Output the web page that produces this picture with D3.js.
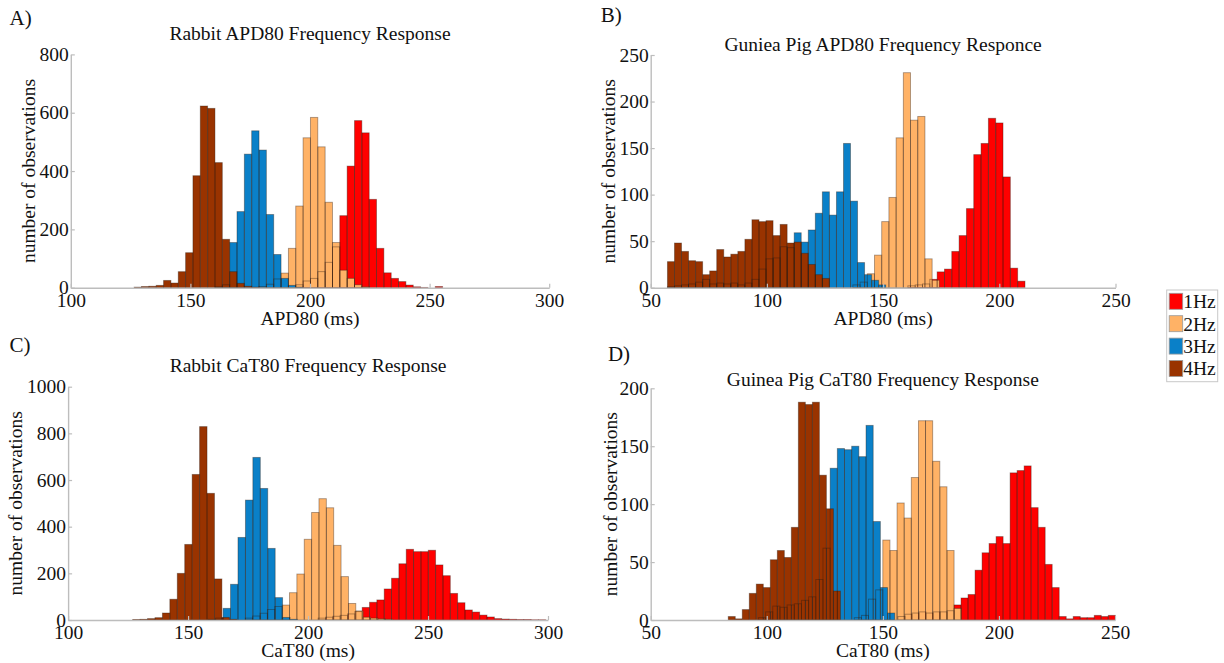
<!DOCTYPE html>
<html>
<head>
<meta charset="utf-8">
<script src="https://cdnjs.cloudflare.com/ajax/libs/d3/7.8.5/d3.min.js"></script>
<style>
  body { margin: 0; background: #fff; }
  svg { display: block; font-family: 'Liberation Serif', 'Times New Roman', serif; }
</style>
</head>
<body>
<div id="chart"></div>
<script>
const freqs = ['1Hz', '2Hz', '3Hz', '4Hz'];
const freqColors = ['#ff0000', '#ffb266', '#0a80c8', '#993300'];

// first bin edge (ms) and bin width per frequency, then the counts per bin
const rabbitApdStart = [194.04, 178.69, 160.27, 126.5];
const rabbitApdWidth = [3.07, 3.07, 3.07, 3.07];
const rabbitApd1Hz = [10, 23, 32, 55, 87, 140, 247, 417, 573, 531, 303, 135, 51, 32, 21, 9, 3, 1, 0, 4];
const rabbitApd2Hz = [4, 12, 30, 50, 135, 280, 514, 584, 483, 293, 155, 60, 32, 10, 3];
const rabbitApd3Hz = [3, 10, 155, 261, 458, 538, 472, 251, 114, 32, 8, 2];
const rabbitApd4Hz = [2, 4, 5, 8, 25, 16, 55, 120, 384, 623, 615, 429, 166, 55, 15, 5, 2];

const pigApdStart = [160.65, 137.0, 57.2, 57.2];
const pigApdWidth = [3.15, 3.1, 3.03, 3.03];
const pigApd1Hz = [2, 3, 4, 9, 17, 20, 39, 56, 85, 143, 155, 182, 177, 119, 21, 7];
const pigApd2Hz = [3, 6, 15, 35, 71, 97, 161, 231, 180, 184, 31, 8];
const pigApd3Hz = [1, 2, 3, 4, 6, 9, 4, 5, 4, 5, 3, 5, 9, 20, 31, 32, 44, 43, 59, 49, 62, 80, 103, 78, 103, 155, 93, 27, 14, 8, 3];
const pigApd4Hz = [28, 48, 39, 29, 28, 14, 18, 41, 33, 36, 39, 52, 73, 71, 72, 56, 68, 48, 49, 37, 25, 14, 10];

const rabbitCatStart = [204.2, 173.85, 158.4, 126.9];
const rabbitCatWidth = [3.06, 3.07, 3.1, 3.1];
const rabbitCat1Hz = [8, 12, 16, 20, 26, 36, 54, 76, 86, 133, 179, 241, 303, 293, 293, 299, 236, 190, 114, 74, 43, 34, 21, 13, 6, 4, 3, 2, 2, 1, 1];
const rabbitCat2Hz = [8, 17, 29, 45, 58, 64, 117, 197, 346, 461, 520, 481, 320, 186, 71, 39, 12, 8, 5, 3];
const rabbitCat3Hz = [3, 8, 50, 153, 354, 514, 697, 564, 307, 96, 11, 3];
const rabbitCat4Hz = [2, 3, 6, 10, 30, 89, 200, 324, 624, 829, 543, 176, 11, 3];

const pigCatStart = [156.5, 137.7, 96.4, 83.4];
const pigCatWidth = [3.02, 3.07, 3.09, 3.02];
const pigCat1Hz = [3, 5, 6, 7, 6, 7, 7, 8, 13, 19, 22, 43, 58, 66, 72, 66, 127, 129, 133, 97, 80, 48, 28, 3, 1, 3, 2, 2, 4, 3, 4];
const pigCat2Hz = [2, 4, 18, 26, 69, 60, 101, 88, 123, 172, 172, 137, 115, 60, 10];
const pigCat3Hz = [2, 7, 12, 11, 13, 14, 17, 20, 35, 62, 131, 148, 147, 150, 141, 168, 85, 28, 6];
const pigCat4Hz = [3, 1, 9, 23, 31, 28, 52, 60, 54, 80, 188, 186, 188, 125, 96, 25];

const rabbitXTicks = [100, 150, 200, 250, 300];
const pigXTicks = [50, 100, 150, 200, 250];
const rabbitApdYTicks = [0, 200, 400, 600, 800];
const pigApdYTicks = [0, 50, 100, 150, 200, 250];
const rabbitCatYTicks = [0, 200, 400, 600, 800, 1000];
const pigCatYTicks = [0, 50, 100, 150, 200];

const panels = [
  { letter: 'A)', title: 'Rabbit APD80 Frequency Response', xlabel: 'APD80 (ms)',
    xTicks: rabbitXTicks, yTicks: rabbitApdYTicks,
    starts: rabbitApdStart, widths: rabbitApdWidth,
    counts: [rabbitApd1Hz, rabbitApd2Hz, rabbitApd3Hz, rabbitApd4Hz],
    left: 70.8, right: 549.2, bottom: 287.7, top: 54.4,
    titleY: 32.7, letterX: 9.6, letterY: 17.5, ylabelX: 27.8, xlabelY: 318 },
  { letter: 'B)', title: 'Guniea Pig APD80 Frequency Responce', xlabel: 'APD80 (ms)',
    xTicks: pigXTicks, yTicks: pigApdYTicks,
    starts: pigApdStart, widths: pigApdWidth,
    counts: [pigApd1Hz, pigApd2Hz, pigApd3Hz, pigApd4Hz],
    left: 650.7, right: 1115.5, bottom: 287.7, top: 55,
    titleY: 44, letterX: 600.7, letterY: 15, ylabelX: 608, xlabelY: 318 },
  { letter: 'C)', title: 'Rabbit CaT80 Frequency Response', xlabel: 'CaT80 (ms)',
    xTicks: rabbitXTicks, yTicks: rabbitCatYTicks,
    starts: rabbitCatStart, widths: rabbitCatWidth,
    counts: [rabbitCat1Hz, rabbitCat2Hz, rabbitCat3Hz, rabbitCat4Hz],
    left: 68.1, right: 548, bottom: 620, top: 386.7,
    titleY: 365, letterX: 9.6, letterY: 345, ylabelX: 15, xlabelY: 650 },
  { letter: 'D)', title: 'Guinea Pig CaT80 Frequency Response', xlabel: 'CaT80 (ms)',
    xTicks: pigXTicks, yTicks: pigCatYTicks,
    starts: pigCatStart, widths: pigCatWidth,
    counts: [pigCat1Hz, pigCat2Hz, pigCat3Hz, pigCat4Hz],
    left: 650.7, right: 1115, bottom: 620, top: 388.3,
    titleY: 379.3, letterX: 607.9, letterY: 353.3, ylabelX: 610, xlabelY: 650 }
];

const w = 1224;
const h = 663;
const fontSize = 19.5;
const axisColor = '#bdbdbd';

const svg = d3.select('#chart')
  .append('svg')
  .attr('width', w)
  .attr('height', h);

panels.forEach(p => {
  const xScale = d3.scaleLinear()
    .domain(d3.extent(p.xTicks))
    .range([p.left, p.right]);
  const yScale = d3.scaleLinear()
    .domain(d3.extent(p.yTicks))
    .range([p.bottom, p.top]);

  const g = svg.append('g');

  // one bin list per frequency
  const series = p.counts.map((c, i) => c.map((v, j) => ({
    x0: p.starts[i] + j * p.widths[i],
    x1: p.starts[i] + (j + 1) * p.widths[i],
    v: v,
    i: i
  })).filter(d => d.v > 0));

  // fills first, 1Hz at the back, then every outline on top
  series.forEach((bins, i) => {
    g.append('g').selectAll('rect')
      .data(bins)
      .enter()
      .append('rect')
      .attr('x', d => xScale(d.x0))
      .attr('width', d => xScale(d.x1) - xScale(d.x0))
      .attr('y', d => yScale(d.v))
      .attr('height', d => yScale(0) - yScale(d.v))
      .attr('fill', freqColors[i]);
  });
  series.forEach(bins => {
    g.append('g').selectAll('rect')
      .data(bins)
      .enter()
      .append('rect')
      .attr('x', d => xScale(d.x0))
      .attr('width', d => xScale(d.x1) - xScale(d.x0))
      .attr('y', d => yScale(d.v))
      .attr('height', d => yScale(0) - yScale(d.v))
      .attr('fill', 'none')
      .attr('stroke', '#2a1a10')
      .attr('stroke-opacity', 0.4)
      .attr('stroke-width', 0.9);
  });

  const xAxis = d3.axisBottom(xScale)
    .tickValues(p.xTicks)
    .tickFormat(d3.format('d'))
    .tickSizeInner(-4)
    .tickSizeOuter(0)
    .tickPadding(5);
  const yAxis = d3.axisLeft(yScale)
    .tickValues(p.yTicks)
    .tickFormat(d3.format('d'))
    .tickSizeInner(-4)
    .tickSizeOuter(0)
    .tickPadding(2);

  const gx = g.append('g')
    .attr('transform', 'translate(0,' + p.bottom + ')')
    .call(xAxis);
  const gy = g.append('g')
    .attr('transform', 'translate(' + p.left + ',0)')
    .call(yAxis);

  [gx, gy].forEach(a => {
    a.select('.domain').attr('stroke', axisColor).attr('stroke-width', 1.4);
    a.selectAll('.tick line').attr('stroke', axisColor).attr('stroke-width', 1.2);
    a.selectAll('.tick text')
      .attr('fill', '#111')
      .style('font-family', "'Liberation Serif', 'Times New Roman', serif")
      .style('font-size', fontSize + 'px');
  });

  g.append('text')
    .attr('x', (p.left + p.right) / 2)
    .attr('y', p.titleY)
    .attr('dy', '0.35em')
    .attr('text-anchor', 'middle')
    .attr('font-size', fontSize)
    .attr('fill', '#111')
    .text(p.title);

  g.append('text')
    .attr('x', p.letterX)
    .attr('y', p.letterY)
    .attr('dy', '0.35em')
    .attr('font-size', 21)
    .attr('fill', '#111')
    .text(p.letter);

  g.append('text')
    .attr('x', (p.left + p.right) / 2)
    .attr('y', p.xlabelY)
    .attr('dy', '0.35em')
    .attr('text-anchor', 'middle')
    .attr('font-size', fontSize)
    .attr('fill', '#111')
    .text(p.xlabel);

  g.append('text')
    .attr('transform', 'translate(' + p.ylabelX + ',' + ((p.top + p.bottom) / 2) + ') rotate(-90)')
    .attr('dy', '0.35em')
    .attr('text-anchor', 'middle')
    .attr('font-size', fontSize)
    .attr('fill', '#111')
    .text('number of observations');
});

// legend box at the right edge
const legend = svg.append('g')
  .attr('transform', 'translate(1166.7, 290)');
legend.append('rect')
  .attr('width', 51)
  .attr('height', 91.7)
  .attr('fill', '#fff')
  .attr('stroke', '#c8c8c8')
  .attr('stroke-width', 1);
const items = legend.selectAll('g.item')
  .data(freqs)
  .enter()
  .append('g')
  .attr('class', 'item')
  .attr('transform', (d, i) => 'translate(0,' + (11.3 + i * 22.4) + ')');
items.append('rect')
  .attr('x', 2.5)
  .attr('y', -8)
  .attr('width', 13.5)
  .attr('height', 16)
  .attr('fill', (d, i) => freqColors[i])
  .attr('stroke', '#9a9a9a')
  .attr('stroke-width', 0.8);
items.append('text')
  .attr('x', 16.5)
  .attr('dy', '0.35em')
  .attr('font-size', fontSize)
  .attr('fill', '#111')
  .text(d => d);
</script>
</body>
</html>
